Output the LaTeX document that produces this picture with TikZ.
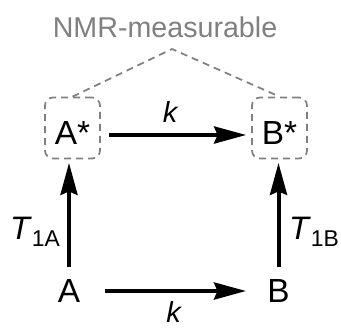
\documentclass[tikz,border=0pt]{standalone}
\usepackage{fontspec}
\setmainfont{Liberation Sans}
\usepackage{xcolor}
\usetikzlibrary{arrows.meta}
\definecolor{nmrgray}{HTML}{808080}

\begin{document}
\begin{tikzpicture}[
		state/.style={inner sep=0pt, font=\fontsize{19}{21}\selectfont},
		starbox/.style={state, draw=nmrgray, line width=0.035cm, dash pattern=on 0.14cm off 0.1cm,
			rounded corners=0.16cm, minimum width=1.1cm, minimum height=1.22cm, text height=18.3pt, text depth=0pt},
		rate/.style={inner sep=0pt, font=\fontsize{16.5}{18}\selectfont\itshape},
		relax/.style={inner sep=0pt, font=\fontsize{18.5}{20}\selectfont},
		trans/.style={line width=0.08cm, -{Stealth[length=0.64cm, width=0.34cm, inset=0.07cm]}},
		link/.style={draw=nmrgray, line width=0.035cm, dash pattern=on 0.14cm off 0.1cm}
	]
	\useasboundingbox (0,0) rectangle (6.82,-6.58);
	
	% Fixed coordinates
	\node (nmr) at (3.30,-0.54) [inner sep=0pt, text=nmrgray, font=\fontsize{16.3}{18}\selectfont] {NMR-measurable};
	\coordinate (apex) at (3.44,-0.98);
	
	\node (As) at (1.45,-2.56) [starbox] {A*};
	\node (Bs) at (5.59,-2.56) [starbox] {B*};
	\node (A) at (1.38,-5.82) [state] {A};
	\node (B) at (5.57,-5.82) [state] {B};
	
	% Labels
	\node (ktop) at (3.40,-2.24) [rate] {k};
	\node (kbot) at (3.47,-6.23) [rate] {k};
	\node (tA) at (0.70,-4.64) [relax] {\textit{T}\raisebox{-0.15cm}{\fontsize{13}{13}\selectfont 1A}};
	\node (tB) at (6.28,-4.64) [relax] {\textit{T}\raisebox{-0.15cm}{\fontsize{13}{13}\selectfont 1B}};
	
	% Dashed grouping lines
	\draw[link] (As.north) -- (apex) -- (Bs.north);
	
	% Arrows
	\draw[trans, shorten <=0.16cm, shorten >=0.1cm] ([yshift=-0.14cm]As.east) -- ([yshift=-0.14cm]Bs.west);
	\draw[trans, shorten <=0.5cm, shorten >=0.42cm] (A.east) -- (B.west);
	\draw[trans, shorten <=0.24cm, shorten >=0.07cm] (A.north) -- (A.north |- As.south);
	\draw[trans, shorten <=0.24cm, shorten >=0.07cm] (B.north) -- (B.north |- Bs.south);
\end{tikzpicture}
\end{document}
